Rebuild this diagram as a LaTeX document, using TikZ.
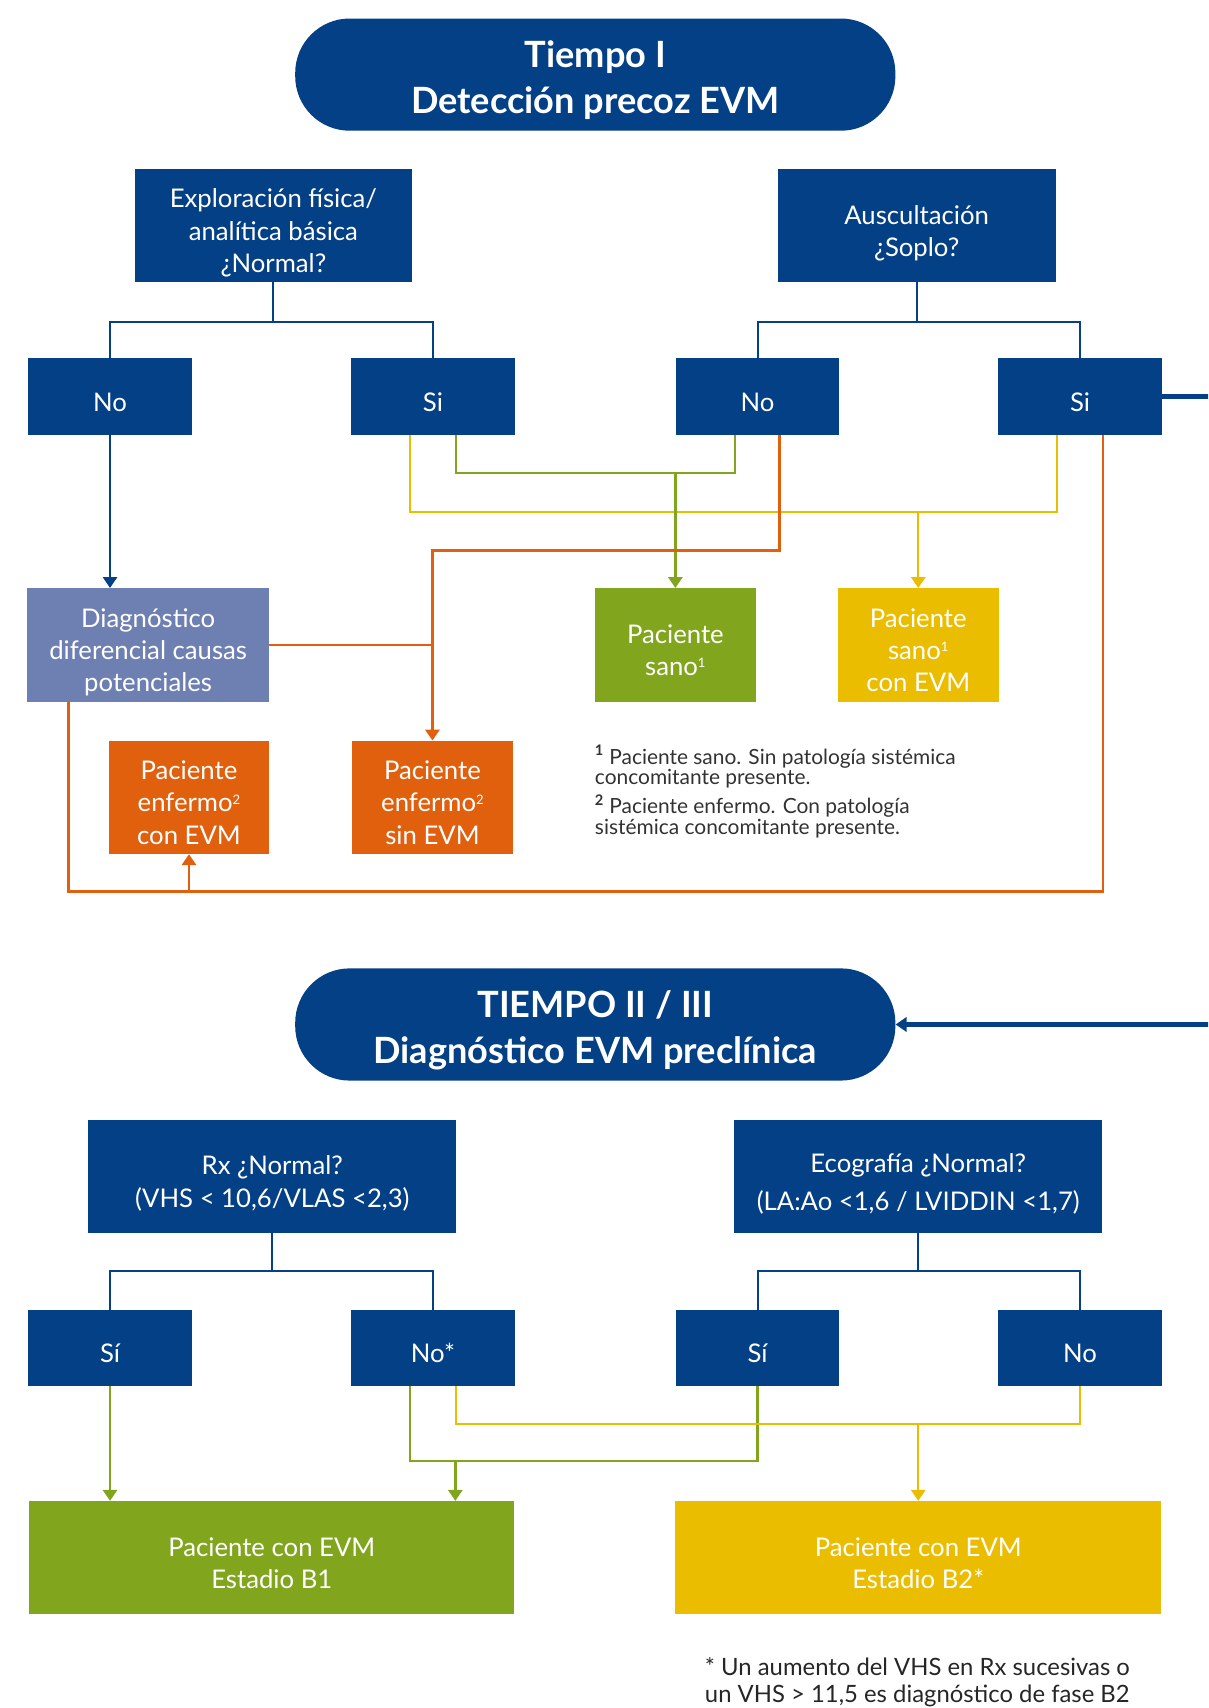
\documentclass[tikz,border=0pt]{standalone}
\usepackage{fontspec}
\setmainfont{Lato}
\usetikzlibrary{arrows.meta,calc}
\definecolor{evmblue}{RGB}{4,64,133}
\definecolor{evmgreen}{RGB}{130,165,30}
\definecolor{evmyellow}{RGB}{235,189,0}
\definecolor{evmorange}{RGB}{224,96,14}
\definecolor{evmlav}{RGB}{110,127,178}
\definecolor{notegray}{RGB}{50,50,50}

% centred lines of box text, set a little below the box centre
\newcommand\boxlines[2][7.5pt]{%
  \raisebox{-#1}[\height][\depth]{\begin{tabular}{@{}c@{}}#2\end{tabular}}}
% small footnote mark
\newcommand\fnmark[1]{\raisebox{7pt}{\fontsize{12}{12}\selectfont #1}}

\begin{document}
\begin{tikzpicture}[x=1pt,y=-1pt,
  box/.style={rectangle, inner sep=0pt, text=white,
    font=\fontsize{23.6}{29.5}\selectfont},
  bluebox/.style={box, fill=evmblue},
  qbox/.style={bluebox, minimum width=255pt, minimum height=104pt},
  wbox/.style={bluebox, minimum width=338pt, minimum height=104pt},
  ansbox/.style={bluebox, minimum width=150pt, minimum height=70pt},
  outbox/.style={box, minimum width=148pt, minimum height=104pt},
  bigout/.style={box, minimum width=446pt, minimum height=104pt},
  pill/.style={rectangle, rounded corners=50pt, fill=evmblue, text=white,
    inner sep=0pt, minimum width=551pt, minimum height=103pt,
    font=\bfseries\fontsize{33.2}{42}\selectfont},
  note/.style={align=left, inner sep=0pt},
  tip/.style={-{Triangle[length=10pt,width=13pt]}},
  bl/.style={draw=evmblue, line width=1.9pt},
  blthick/.style={draw=evmblue, line width=4pt},
  gr/.style={draw=evmgreen, line width=2.2pt},
  ye/.style={draw=evmyellow, line width=2.2pt},
  orl/.style={draw=evmorange, line width=2.4pt},
]
\clip (0,0) rectangle (1109,1568);

% ---------- Tiempo I ----------
\node[pill] (t1) at (546.5,68.5) {\boxlines[6pt]{Tiempo I\\Detección precoz EVM}};

\node[qbox] (q1) at (251,207) {\boxlines{Exploración física/\\analítica básica\\¿Normal?}};
\node[qbox] (q2) at (841.5,207) {\boxlines{Auscultación\\¿Soplo?}};

\node[ansbox] (n1) at (101,364) {\boxlines{No}};
\node[ansbox] (s1) at (397.5,364) {\boxlines{Si}};
\node[ansbox] (n2) at (695.5,364) {\boxlines{No}};
\node[ansbox] (s2) at (991.5,364) {\boxlines{Si}};

\node[outbox, fill=evmlav, minimum width=222pt] (diag) at (136,592)
  {\boxlines{Diagnóstico\\diferencial causas\\potenciales}};
\node[outbox, fill=evmgreen] (sano) at (620,592)
  {\boxlines{Paciente\\sano\fnmark{1}}};
\node[outbox, fill=evmyellow] (sanoevm) at (843,592)
  {\boxlines{Paciente\\sano\fnmark{1}\\con EVM}};
\node[outbox, fill=evmorange, minimum width=147pt] (enfcon) at (173.5,732)
  {\boxlines{Paciente\\enfermo\fnmark{2}\\con EVM}};
\node[outbox, fill=evmorange] (enfsin) at (397,732)
  {\boxlines{Paciente\\enfermo\fnmark{2}\\sin EVM}};

\node[note, anchor=north west, text=notegray, font=\fontsize{19.2}{19}\selectfont]
  (fn1) at (546,684)
  {\textsuperscript{\textbf{1}} Paciente sano. Sin patología sistémica\\
   concomitante presente.\\[5pt]
   \textsuperscript{\textbf{2}} Paciente enfermo. Con patología\\
   sistémica concomitante presente.};

% tree connectors
\draw[bl] (q1.south) -- ++(0,36) -| (n1.north);
\draw[bl] (q1.south) -- ++(0,36) -| (s1.north);
\draw[bl] (q2.south) -- ++(0,36) -| (n2.north);
\draw[bl] (q2.south) -- ++(0,36) -| (s2.north);

\draw[bl, tip] (n1.south) -- (diag.north -| n1.south);

% yellow: Si / Si -> sano con EVM
\draw[ye] ($(s1.south)+(-21,0)$) -- ++(0,71) -| ($(s2.south)+(-21,0)$);
\draw[ye, tip] ($(s1.south)+(-21,0)$) -- ++(0,71) -| (sanoevm.north);

% green: Si / No -> sano
\draw[gr] ($(s1.south)+(21,0)$) -- ++(0,35) -| ($(n2.south)+(-21,0)$);
\draw[gr, tip] ($(s1.south)+(21,0)$) -- ++(0,35) -| (sano.north);

% orange: No (soplo) -> enfermo sin EVM
\draw[orl, tip] ($(n2.south)+(20,0)$) -- ++(0,106) -| (enfsin.north);
\draw[orl] (diag.east) -- (diag.east -| enfsin.north);

% orange: diagnostico / Si (soplo) -> enfermo con EVM
\draw[orl] ($(diag.south)+(-73,0)$) -- ++(0,174) -| ($(s2.south)+(21,0)$);
\draw[orl, tip] ($(diag.south)+(-73,0)$) -- ++(0,174) -| (enfcon.south);

% ---------- Tiempo II / III ----------
\node[pill] (t2) at (546.5,940.5)
  {\boxlines[6pt]{TIEMPO II / III\\Diagnóstico EVM preclínica}};

\draw[blthick, tip] (s2.east) -- ++(70,0) |- (t2.east);

\node[wbox] (rx) at (250,1080) {\boxlines{Rx ¿Normal?\\(VHS < 10,6/VLAS <2,3)}};
\node[wbox, font=\fontsize{23.6}{35}\selectfont] (eco) at (843,1080)
  {\boxlines[6.5pt]{Ecografía ¿Normal?\\(LA:Ao <1,6 / LVIDDIN <1,7)}};

\node[ansbox, minimum height=69pt] (a1) at (101,1237.5) {\boxlines{Sí}};
\node[ansbox, minimum height=69pt] (a2) at (397.5,1237.5) {\boxlines{No*}};
\node[ansbox, minimum height=69pt] (a3) at (695.5,1237.5) {\boxlines{Sí}};
\node[ansbox, minimum height=69pt] (a4) at (991.5,1237.5) {\boxlines{No}};

\node[bigout, fill=evmgreen, minimum width=445pt] (b1) at (249.5,1430)
  {\boxlines{Paciente con EVM\\Estadio B1}};
\node[bigout, fill=evmyellow] (b2) at (843,1430)
  {\boxlines{Paciente con EVM\\Estadio B2*}};

\draw[bl] (rx.south) -- ++(0,35) -| (a1.north);
\draw[bl] (rx.south) -- ++(0,35) -| (a2.north);
\draw[bl] (eco.south) -- ++(0,35) -| (a3.north);
\draw[bl] (eco.south) -- ++(0,35) -| (a4.north);

% green -> Estadio B1
\draw[gr, tip] (a1.south) -- (b1.north -| a1.south);
\draw[gr] ($(a2.south)+(-21,0)$) -- ++(0,69) -| (a3.south);
\draw[gr, tip] ($(a2.south)+(-21,0)$) -- ++(0,69) -| ($(b1.north)+(168.5,0)$);

% yellow -> Estadio B2
\draw[ye] ($(a2.south)+(21,0)$) -- ++(0,35) -| (a4.south);
\draw[ye, tip] ($(a2.south)+(21,0)$) -- ++(0,35) -| (b2.north);

\node[note, anchor=north west, text=black!85, font=\fontsize{21.9}{25}\selectfont]
  (fn2) at (647,1521)
  {* Un aumento del VHS en Rx sucesivas o\\
   un VHS > 11,5 es diagnóstico de fase B2};
\end{tikzpicture}
\end{document}
